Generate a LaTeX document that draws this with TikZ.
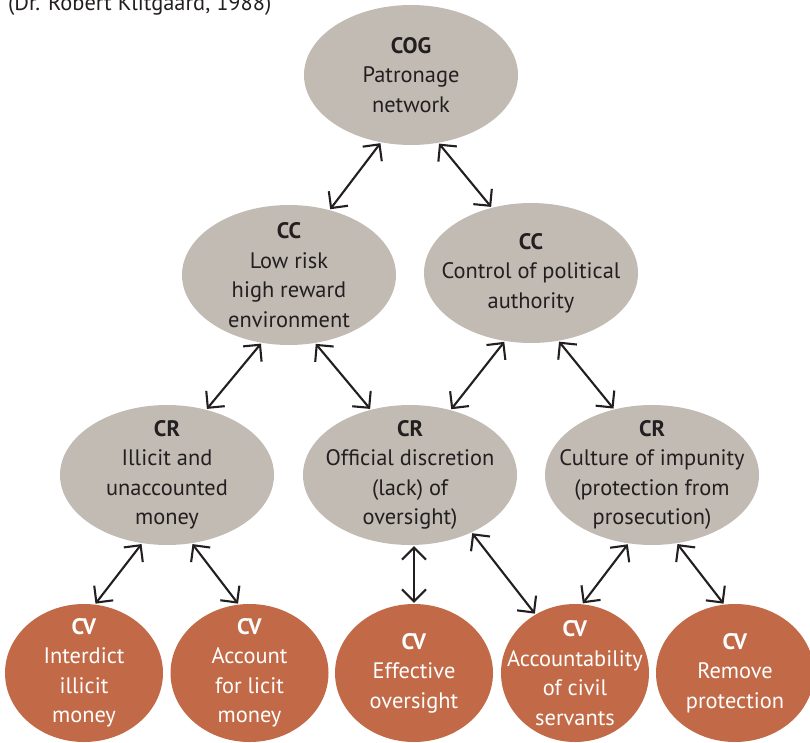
\documentclass[tikz,border=0pt]{standalone}
\usepackage{fontspec}
\setmainfont{PT Sans}
\usetikzlibrary{shapes.geometric,arrows.meta}
\definecolor{stone}{HTML}{C1BBB4}
\definecolor{rust}{HTML}{C26A47}
\definecolor{ink}{HTML}{231F20}
\tikzset{
  bubble/.style={ellipse, draw=none, inner sep=0pt,
    minimum width=214pt, minimum height=140pt, fill=stone},
  vbubble/.style={ellipse, draw=none, inner sep=0pt,
    minimum width=158pt, minimum height=138pt, fill=rust},
  dtext/.style={align=center, text=ink, inner sep=0pt,
    font=\fontsize{22.4}{29.5}\selectfont},
  ltext/.style={dtext, text=white},
  link/.style={{Straight Barb[length=12pt,width=24pt]}-{Straight Barb[length=12pt,width=24pt]},
    line width=2.1pt, draw=ink, shorten <=1pt, shorten >=1pt},
}
\begin{document}
\begin{tikzpicture}[x=1pt,y=-1pt]
\useasboundingbox (0,0) rectangle (810,743);

% source line
\node[anchor=base west, inner sep=0pt, text=ink,
  font=\fontsize{22.4}{26}\selectfont] (src) at (8,11) {(Dr. Robert Klitgaard, 1988)};

% centre of gravity
\node[bubble] (cog) at (411,75) {};
\node[dtext] (cogt) at (cog) {\textbf{COG}\\Patronage\\network};

% critical capabilities
\node[bubble] (ccl) at (289,275) {};
\node[dtext] (cclt) at (ccl) {\textbf{CC}\\Low risk\\high reward\\environment};
\node[bubble] (ccr) at (531,273) {};
\node[dtext] (ccrt) at (ccr) {\textbf{CC}\\Control of political\\authority};

% critical requirements
\node[bubble] (crl) at (167,475) {};
\node[dtext] (crlt) at (crl) {\textbf{CR}\\Illicit and\\unaccounted\\money};
\node[bubble] (crm) at (410,475) {};
\node[dtext] (crmt) at (crm) {\textbf{CR}\\Official discretion\\(lack) of\\oversight)};
\node[bubble] (crr) at (652,475) {};
\node[dtext] (crrt) at (crr) {\textbf{CR}\\Culture of impunity\\(protection from\\prosecution)};

% critical vulnerabilities
\node[vbubble] (cv1) at (84,673) {};
\node[ltext] (cv1t) at (cv1) {\textbf{CV}\\Interdict\\illicit\\money};
\node[vbubble] (cv2) at (249.5,673) {};
\node[ltext] (cv2t) at (cv2) {\textbf{CV}\\Account\\for licit\\money};
\node[vbubble] (cv3) at (414,673) {};
\node[ltext] (cv3t) at (cv3) {\textbf{CV}\\Effective\\oversight};
\node[vbubble, minimum width=148pt] (cv4) at (575,673) {};
\node[ltext] (cv4t) at (cv4) {\textbf{CV}\\Accountability\\of civil\\servants};
\node[vbubble] (cv5) at (735,673) {};
\node[ltext] (cv5t) at (cv5) {\textbf{CV}\\Remove\\protection};

% links
\draw[link] (cog.-114) -- (ccl.58);
\draw[link] (cog.-68) -- (ccr.121);
\draw[link] (ccl.-112) -- (crl.59);
\draw[link] (ccl.-69) -- (crm.121);
\draw[link] (ccr.-111) -- (crm.58);
\draw[link] (ccr.-68) -- (crr.120);
\draw[link] (crl.-110) -- (cv1.81);
\draw[link] (crl.-70) -- (cv2.99);
\draw[link] (crm.south -| cv3.north) -- (cv3.north);
\draw[link] (crm.-43) -- (cv4.124);
\draw[link] (crr.-109) -- (cv4.84);
\draw[link] (crr.-70) -- (cv5.99);
\end{tikzpicture}
\end{document}
